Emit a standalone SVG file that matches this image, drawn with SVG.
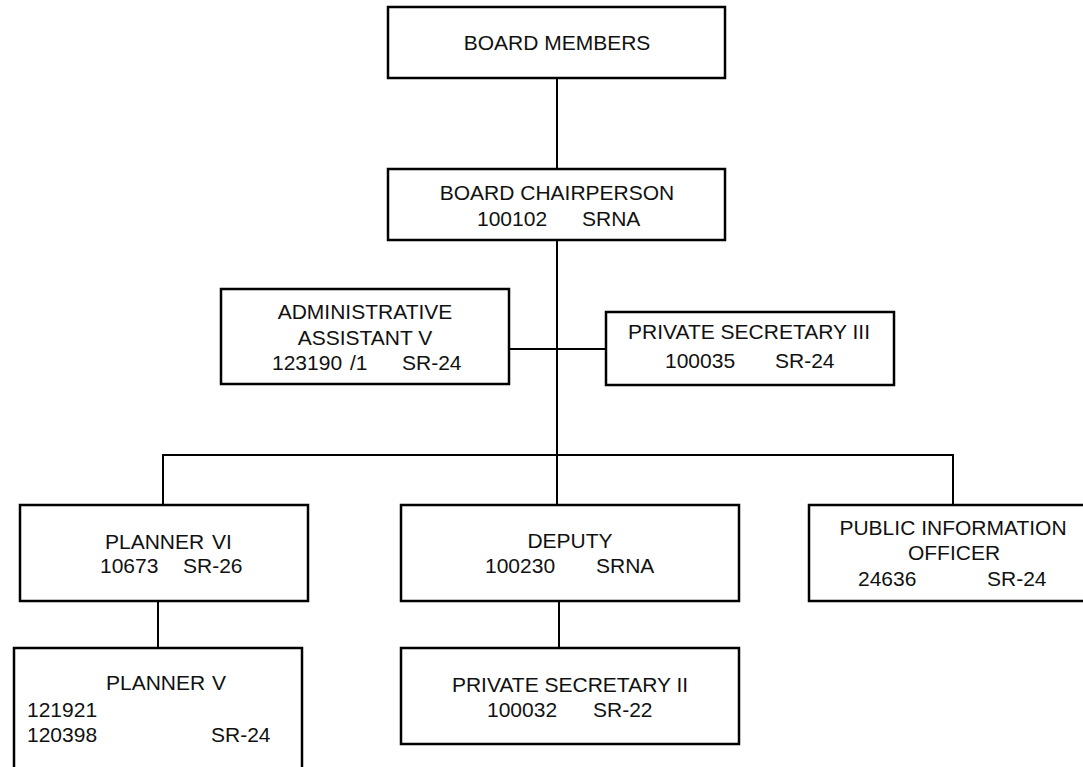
<svg xmlns="http://www.w3.org/2000/svg" width="1083" height="767" viewBox="0 0 1083 767">
<style>
.box{fill:#fff;stroke:#000;stroke-width:2.5}
.ln{fill:none;stroke:#000;stroke-width:2}
text{font-family:"Liberation Sans",Arial,sans-serif;font-size:21px;fill:#111}
.c{text-anchor:middle}
</style>
<rect width="1083" height="767" fill="#fff"/>
<g id="connectors">
<line class="ln" x1="557" y1="78" x2="557" y2="169"/>
<line class="ln" x1="557" y1="240" x2="557" y2="505"/>
<line class="ln" x1="509" y1="349" x2="606" y2="349"/>
<polyline class="ln" points="163,505 163,455 953,455 953,505"/>
<line class="ln" x1="158" y1="601" x2="158" y2="648"/>
<line class="ln" x1="559" y1="601" x2="559" y2="648"/>
</g>
<g id="board-members">
<rect class="box" x="388" y="7" width="337" height="71"/>
<text class="c" x="557" y="50">BOARD MEMBERS</text>
</g>
<g id="board-chairperson">
<rect class="box" x="388" y="169" width="337" height="71"/>
<text class="c" x="557" y="200">BOARD CHAIRPERSON</text>
<text y="226"><tspan x="477">100102</tspan><tspan x="582">SRNA</tspan></text>
</g>
<g id="admin-assistant">
<rect class="box" x="221" y="289" width="288" height="95"/>
<text class="c" x="365" y="319">ADMINISTRATIVE</text>
<text class="c" x="365" y="345">ASSISTANT V</text>
<text y="370"><tspan x="272">123190</tspan><tspan x="350">/1</tspan><tspan x="402">SR-24</tspan></text>
</g>
<g id="private-secretary-3">
<rect class="box" x="606" y="312" width="288" height="73"/>
<text class="c" x="749" y="339">PRIVATE SECRETARY III</text>
<text y="368"><tspan x="665">100035</tspan><tspan x="775">SR-24</tspan></text>
</g>
<g id="planner-6">
<rect class="box" x="20" y="505" width="288" height="96"/>
<text y="549"><tspan x="105">PLANNER</tspan><tspan x="212">VI</tspan></text>
<text y="573"><tspan x="100">10673</tspan><tspan x="183">SR-26</tspan></text>
</g>
<g id="deputy">
<rect class="box" x="401" y="505" width="338" height="96"/>
<text class="c" x="570" y="548">DEPUTY</text>
<text y="573"><tspan x="485">100230</tspan><tspan x="596">SRNA</tspan></text>
</g>
<g id="public-information-officer">
<rect class="box" x="809" y="505" width="288" height="96"/>
<text class="c" x="953" y="535">PUBLIC INFORMATION</text>
<text class="c" x="954" y="560">OFFICER</text>
<text y="586"><tspan x="858">24636</tspan><tspan x="987">SR-24</tspan></text>
</g>
<g id="planner-5">
<rect class="box" x="14" y="648" width="288" height="130"/>
<text y="690"><tspan x="106">PLANNER</tspan><tspan x="212">V</tspan></text>
<text x="27" y="717">121921</text>
<text y="742"><tspan x="27">120398</tspan><tspan x="211">SR-24</tspan></text>
</g>
<g id="private-secretary-2">
<rect class="box" x="401" y="648" width="338" height="96"/>
<text class="c" x="570" y="692">PRIVATE SECRETARY II</text>
<text y="717"><tspan x="487">100032</tspan><tspan x="593">SR-22</tspan></text>
</g>
</svg>
